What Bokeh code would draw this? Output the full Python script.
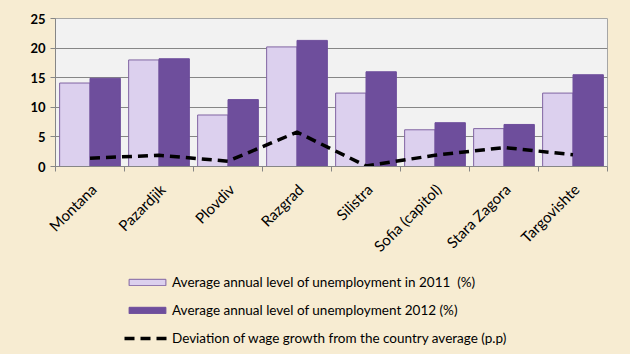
from bokeh.plotting import figure
from bokeh.models import ColumnDataSource, FixedTicker, Legend, LegendItem, Range1d
from bokeh.layouts import column
from bokeh.embed import file_html
from bokeh.resources import INLINE

regions = ["Montana", "Pazardjik", "Plovdiv", "Razgrad", "Silistra",
           "Sofia (capitol)", "Stara Zagora", "Targovishte"]
unemp_2011 = [14.1, 18.0, 8.7, 20.2, 12.4, 6.2, 6.4, 12.4]
unemp_2012 = [14.9, 18.2, 11.3, 21.3, 16.0, 7.4, 7.1, 15.5]
wage_dev = [1.4, 1.9, 0.9, 5.8, 0.1, 1.9, 3.2, 2.0]
y_ticks = [0, 5, 10, 15, 20, 25]
series_names = ["Average annual level of unemployment in 2011  (%)",
                "Average annual level of unemployment 2012 (%)",
                "Deviation of wage growth from the country average (p.p)"]

n = len(regions)
centers = [i + 0.5 for i in range(n)]
label_pos = [c + 0.05 for c in centers]
src = ColumnDataSource(dict(
    x1=[c - 0.22 for c in centers], x2=[c + 0.22 for c in centers],
    xc=centers, a=unemp_2011, b=unemp_2012, d=wage_dev))

FONT = "Lato"
BG = "#f7ecd2"
C11_FILL, C11_LINE = "#dcd0ee", "#8064a2"
C12 = "#6e4e9c"

p = figure(width=630, height=264, output_backend="svg", toolbar_location=None,
           x_range=Range1d(0, n), y_range=Range1d(0, 25),
           min_border_left=55, min_border_right=23, min_border_top=18,
           min_border_bottom=98)
p.background_fill_color = "#f2f2f2"
p.border_fill_color = BG
p.outline_line_color = "#a6a6a6"

p.vbar(x="x1", top="a", width=0.44, source=src, fill_color=C11_FILL,
       line_color=C11_LINE, line_width=1)
p.vbar(x="x2", top="b", width=0.44, source=src, fill_color=C12,
       line_color=C12, line_width=1)
p.line(x="xc", y="d", source=src, line_color="black", line_width=3.5,
       line_dash="10 6")

p.xgrid.visible = False
p.ygrid.grid_line_color = "#868686"
p.ygrid.ticker = FixedTicker(ticks=y_ticks)

p.yaxis.ticker = FixedTicker(ticks=y_ticks)
p.yaxis.axis_line_color = "#868686"
p.yaxis.major_tick_line_color = "#868686"
p.yaxis.major_tick_in = 0
p.yaxis.major_tick_out = 5
p.yaxis.minor_tick_line_color = None
p.yaxis.major_label_text_font = FONT
p.yaxis.major_label_text_font_size = "13px"
p.yaxis.major_label_text_font_style = "bold"
p.yaxis.major_label_text_color = "black"

p.xaxis.ticker = FixedTicker(ticks=label_pos, minor_ticks=list(range(n + 1)))
p.xaxis.major_label_overrides = {c: r for c, r in zip(label_pos, regions)}
p.xaxis.major_tick_line_color = None
p.xaxis.minor_tick_line_color = "#868686"
p.xaxis.minor_tick_in = 0
p.xaxis.minor_tick_out = 5
p.xaxis.axis_line_color = "#868686"
p.xaxis.major_label_orientation = 0.785
p.xaxis.major_label_text_font = FONT
p.xaxis.major_label_text_font_size = "15px"
p.xaxis.major_label_text_color = "black"
p.xaxis.major_label_standoff = 14

# legend panel (its renderers sit outside the visible ranges; only the legend shows)
p2 = figure(width=630, height=90, output_backend="svg", toolbar_location=None,
            x_range=Range1d(100, 101), y_range=Range1d(100, 101),
            min_border=0, x_axis_location=None, y_axis_location=None)
p2.background_fill_color = BG
p2.border_fill_color = BG
p2.outline_line_color = None
p2.grid.visible = False
e1 = p2.vbar(x="x1", top="a", width=0.44, source=src, fill_color=C11_FILL,
             line_color=C11_LINE)
e2 = p2.vbar(x="x2", top="b", width=0.44, source=src, fill_color=C12,
             line_color=C12)
e3 = p2.line(x="xc", y="d", source=src, line_color="black", line_width=3.5,
             line_dash="10 6")

legend = Legend(items=[
    LegendItem(label=series_names[0], renderers=[e1]),
    LegendItem(label=series_names[1], renderers=[e2]),
    LegendItem(label=series_names[2], renderers=[e3]),
], location=(69, 8))
legend.margin = 0
legend.padding = 0
legend.border_line_alpha = 0
legend.background_fill_alpha = 0
legend.glyph_width = 46
legend.glyph_height = 8
legend.label_height = 8
legend.spacing = 12
legend.label_standoff = 2
legend.label_text_font = FONT
legend.label_text_font_size = "13.5px"
legend.label_text_color = "black"
legend.label_text_baseline = "middle"
p2.add_layout(legend, "center")

layout = column(p, p2, spacing=0, styles={"background-color": BG})
open("out.html", "w").write(file_html(layout, INLINE))
